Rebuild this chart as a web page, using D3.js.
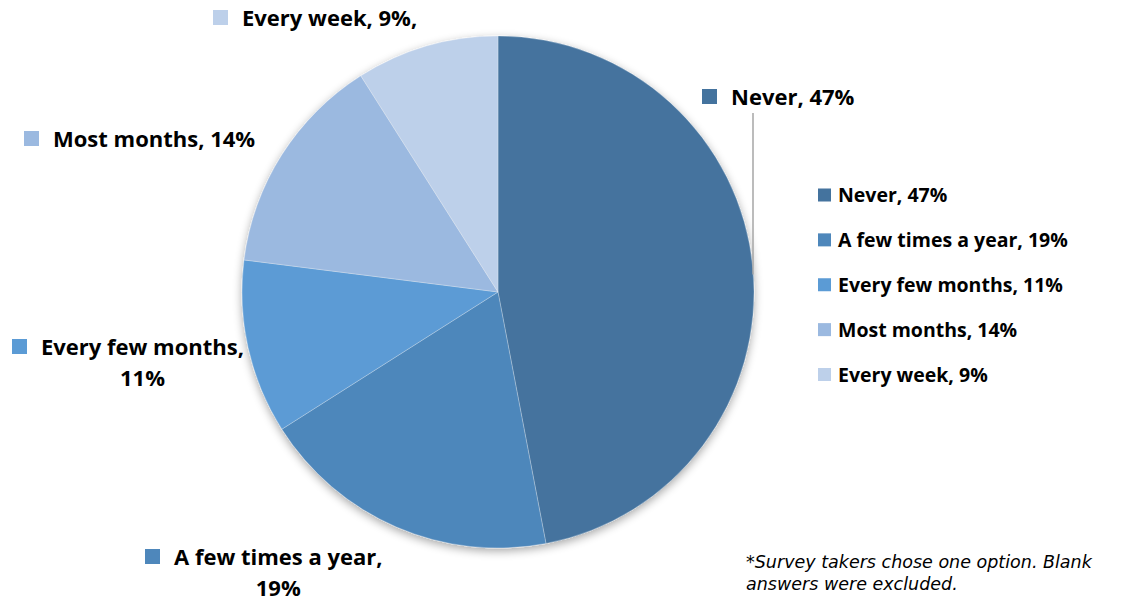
<!DOCTYPE html>
<html>
<head>
<meta charset="utf-8">
<script src="https://cdn.jsdelivr.net/npm/d3@7"></script>
<style>
  html, body { margin: 0; padding: 0; background: #ffffff; }
  svg { display: block; }
</style>
</head>
<body>
<svg id="chart" width="1125" height="604"></svg>
<script>
// ---- data ----
const categories = ["Never", "A few times a year", "Every few months", "Most months", "Every week"];
const percents = [47, 19, 11, 14, 9];
const colors = ["#44739e", "#4e87bb", "#5b9bd5", "#9bb9e0", "#bdd0ea"];
// data-label texts (as printed on the chart, with their line breaks)
const labelLines = [
  ["Never, 47%"],
  ["A few times a year,", "19%"],
  ["Every few months,", "11%"],
  ["Most months, 14%"],
  ["Every week, 9%,"]
];
const legendLabels = categories.map((c, i) => c + ", " + percents[i] + "%");
const footnoteLines = ["*Survey takers chose one option. Blank", "answers were excluded."];

// ---- layout (styling only) ----
const W = 1125, H = 604;
const cx = 498, cy = 292, R = 256;
// anchor for each data label: x of marker square, baseline y of first line
const labelLayout = [
  { x: 702, y: 105 },
  { x: 145, y: 565 },
  { x: 12,  y: 355 },
  { x: 24,  y: 147 },
  { x: 213, y: 26 }
];

const svg = d3.select("#chart");
const defs = svg.append("defs");
const f = defs.append("filter").attr("id", "shadow")
  .attr("x", "-20%").attr("y", "-20%").attr("width", "140%").attr("height", "140%");
f.append("feGaussianBlur").attr("in", "SourceAlpha").attr("stdDeviation", 5).attr("result", "b");
f.append("feOffset").attr("in", "b").attr("dx", 0).attr("dy", 3).attr("result", "o");
f.append("feComponentTransfer").attr("in", "o").attr("result", "s")
  .append("feFuncA").attr("type", "linear").attr("slope", 0.35);
const fm = f.append("feMerge");
fm.append("feMergeNode").attr("in", "s");
fm.append("feMergeNode").attr("in", "SourceGraphic");

const pie = d3.pie().sort(null).value(d => d);
const arcs = pie(percents);
const arc = d3.arc().innerRadius(0).outerRadius(R);

const g = svg.append("g").attr("transform", `translate(${cx},${cy})`);
g.append("g").attr("filter", "url(#shadow)")
  .selectAll("path").data(arcs).join("path")
  .attr("d", arc)
  .attr("fill", (d, i) => colors[i])
  .attr("stroke", "rgba(255,255,255,0.45)")
  .attr("stroke-width", 0.6);

// leader line for "Never"
const lx = 753;
const ly2 = cy - Math.sqrt(R * R - (lx - cx) * (lx - cx)) + 5;
svg.append("line")
  .attr("x1", lx).attr("x2", lx).attr("y1", 113).attr("y2", ly2)
  .attr("stroke", "#a6a6a6").attr("stroke-width", 1.5);

// data labels
const labelFont = "'Open Sans', Lato, sans-serif";
const labelSize = 22, legendSize = 19.5;
labelLines.forEach((lines, i) => {
  const L = labelLayout[i];
  const lg = svg.append("g");
  lg.append("rect")
    .attr("x", L.x).attr("y", L.y - 16).attr("width", 15).attr("height", 15)
    .attr("fill", colors[i]);
  const t1 = lg.append("text")
    .attr("x", L.x + 29).attr("y", L.y)
    .attr("font-family", labelFont).attr("font-weight", 700)
    .attr("font-size", labelSize).attr("fill", "#000")
    .text(lines[0]);
  if (lines.length > 1) {
    const w = t1.node().getComputedTextLength();
    lg.append("text")
      .attr("x", L.x + 29 + w / 2).attr("y", L.y + 31)
      .attr("text-anchor", "middle")
      .attr("font-family", labelFont).attr("font-weight", 700)
      .attr("font-size", labelSize).attr("fill", "#000")
      .text(lines[1]);
  }
});

// legend
const legendY = d3.scalePoint().domain(d3.range(categories.length)).range([195.5, 375]);
const leg = svg.append("g");
categories.forEach((c, i) => {
  const y = legendY(i);
  leg.append("rect")
    .attr("x", 818).attr("y", y - 7).attr("width", 13).attr("height", 13)
    .attr("fill", colors[i]);
  leg.append("text")
    .attr("x", 838).attr("y", y + 6.5)
    .attr("font-family", labelFont).attr("font-weight", 700)
    .attr("font-size", legendSize).attr("fill", "#000")
    .text(legendLabels[i]);
});

// footnote
footnoteLines.forEach((t, i) => {
  svg.append("text")
    .attr("x", 746).attr("y", 568 + i * 22)
    .attr("font-family", "'DejaVu Sans', Verdana, sans-serif")
    .attr("font-style", "italic")
    .attr("font-size", 17.5).attr("fill", "#000")
    .text(t);
});
</script>
</body>
</html>
